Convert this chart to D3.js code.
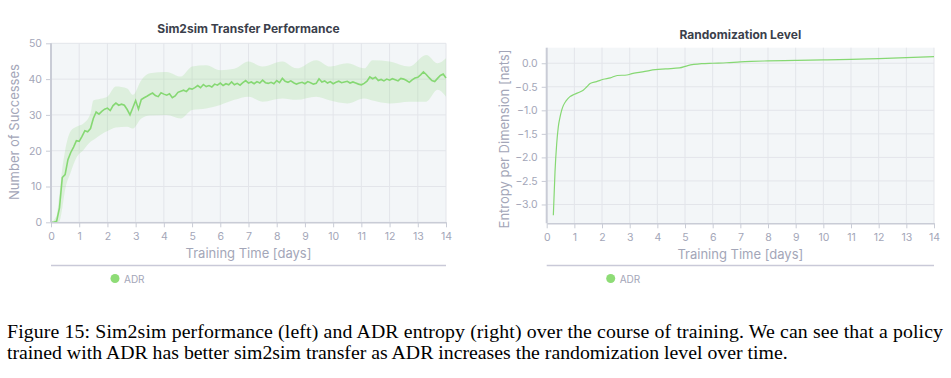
<!DOCTYPE html>
<html>
<head>
<meta charset="utf-8">
<script src="https://cdn.jsdelivr.net/npm/d3@7"></script>
<style>
  body { margin: 0; background: #fff; }
  text { font-family: Inter, "Noto Sans", sans-serif; }
</style>
</head>
<body>
<svg id="fig" width="951" height="378"></svg>
<script>
// Left chart: Sim2sim transfer performance (mean line)
const perfDays = d3.range(0, 141).map(i => i / 10);
const perfMean = [
  0, 0, 0.3, 4, 12.5, 13.3, 17.5, 19.5, 21, 22.8,
  22.6, 24, 25.6, 25.3, 26.2, 29.0, 30.8, 30.2, 31.0, 31.6,
  31.9, 31.2, 32.6, 33.3, 32.7, 33.0, 32.7, 31.5, 30.0, 32.0,
  34.0, 31.6, 34.3, 34.8, 35.2, 35.7, 36.1, 35.4, 35.1, 36.2,
  35.8, 35.5, 35.9, 34.8, 35.3, 36.3, 36.6, 36.9, 36.5, 37.4,
  37.2, 37.6, 38.2, 37.6, 38.5, 37.9, 38.2, 37.8, 38.6, 38.3,
  38.9, 38.2, 38.7, 38.4, 39.2, 38.4, 38.8, 38.3, 39.0, 39.6,
  38.9, 39.2, 38.7, 39.3, 38.9, 39.7, 39.0, 38.8, 39.1, 38.7,
  39.6, 39.0, 40.2, 39.4, 39.1, 39.5, 39.0, 38.6, 38.9, 39.1,
  38.7, 39.3, 39.0, 38.6, 38.8, 40.1, 39.2, 39.5, 38.9, 39.3,
  38.7, 39.1, 39.4, 39.0, 39.2, 39.4, 38.9, 39.2, 38.9, 38.6,
  38.4, 38.8, 39.4, 40.6, 40.1, 40.5, 39.6, 39.9, 39.5, 40.0,
  39.7, 40.1, 39.8, 39.5, 40.2, 40.0, 39.6, 39.1, 39.8, 40.3,
  40.5, 41.2, 42.0, 41.3, 40.4, 39.6, 39.3, 40.2, 41.0, 41.4,
  40.3
];
// Left chart: spread band
const bandDays = [0, 0.2, 0.3, 0.4, 0.5, 0.7, 0.9, 1.15, 1.4, 1.5, 1.75, 2.0, 2.3, 2.7, 2.9, 3.2, 3.5, 4.1, 4.6, 5.0,
  5.5, 6.0, 6.5, 7.0, 7.5, 8.2, 8.7, 9.4, 9.9, 10.5, 11.1, 11.4, 12.0, 12.7, 13.3, 13.7, 14];
const bandUpper = [0, 2, 8, 15, 20, 25.5, 26.7, 27.6, 30.4, 34, 34.5, 35.1, 37.9, 37.4, 35.6, 39.7, 41.6, 42, 40.7, 43.5,
  43.9, 42.5, 42.9, 44.9, 43.5, 44.9, 43, 45.3, 43.5, 44.4, 43, 45.3, 44.9, 43.5, 46.7, 44.4, 45.8];
const bandLower = [0, 0, 0.3, 4, 9, 14, 18, 20.2, 22.5, 23, 24.4, 25.5, 26.5, 26.7, 26.2, 29, 29.8, 30, 29, 31.4,
  31.8, 32.8, 34.2, 35.1, 33.7, 34.6, 34.2, 35.1, 34, 33.2, 34.6, 34, 33.2, 33.7, 33.7, 37, 35.1];

// Right chart: randomization level (entropy)
const entDays = [0.24, 0.3, 0.36, 0.42, 0.48, 0.54, 0.6, 0.7, 0.84, 1.0, 1.2, 1.33, 1.45, 1.57, 1.8, 2.05, 2.3, 2.55,
  2.9, 3.08, 3.4, 3.75, 4.3, 4.8, 5.1, 5.6, 6.0, 6.5, 7.0, 7.4, 8.0, 9.0, 10.0, 11.0, 12.0, 13.0, 14.0];
const entValues = [-3.23, -2.31, -1.72, -1.35, -1.15, -1.0, -0.9, -0.8, -0.71, -0.66, -0.61, -0.57, -0.5, -0.43,
  -0.39, -0.34, -0.31, -0.26, -0.25, -0.22, -0.19, -0.15, -0.12, -0.1, -0.05, -0.01, 0.0, 0.01, 0.03, 0.04,
  0.05, 0.06, 0.07, 0.08, 0.1, 0.12, 0.14];

const xTicks = d3.range(0, 15);
const perfTicks = [0, 10, 20, 30, 40, 50];
const entTicks = [0, -0.5, -1.0, -1.5, -2.0, -2.5, -3.0];
const seriesName = 'ADR';
const caption = [
  'Figure 15: Sim2sim performance (left) and ADR entropy (right) over the course of training. We can see that a policy',
  'trained with ADR has better sim2sim transfer as ADR increases the randomization level over time.'
];

const GREEN = '#86d873';
const TICK = '#a3a6b8';
const GRID = '#e3e5ea';

const svg = d3.select('#fig');

function drawChart(cfg) {
  const g = svg.append('g');
  const xs = d3.scaleLinear().domain([0, 14]).range([cfg.left, cfg.right]);
  const ys = d3.scaleLinear().domain(cfg.ydomain).range([cfg.bottom, cfg.top]);

  g.append('rect')
    .attr('x', cfg.left).attr('y', cfg.top)
    .attr('width', cfg.right - cfg.left).attr('height', cfg.bottom - cfg.top)
    .attr('fill', '#f3f6f8');

  // grid
  g.selectAll('.vg').data(xTicks.slice(1)).join('line')
    .attr('x1', d => xs(d)).attr('x2', d => xs(d))
    .attr('y1', cfg.top).attr('y2', cfg.bottom)
    .attr('stroke', GRID).attr('stroke-width', 1);
  g.selectAll('.hg').data(cfg.yticks).join('line')
    .attr('x1', cfg.left).attr('x2', cfg.right)
    .attr('y1', d => ys(d)).attr('y2', d => ys(d))
    .attr('stroke', GRID).attr('stroke-width', 1);

  cfg.marks(g, xs, ys);

  // axes
  const xaxis = g.append('g')
    .attr('transform', `translate(0, ${cfg.bottom})`)
    .call(d3.axisBottom(xs).tickValues(xTicks).tickSize(5).tickPadding(5).tickSizeOuter(0));
  const yaxis = g.append('g')
    .attr('transform', `translate(${cfg.left}, 0)`)
    .call(d3.axisLeft(ys).tickValues(cfg.yticks).tickFormat(cfg.yfmt).tickSize(5).tickPadding(4).tickSizeOuter(0));
  [xaxis, yaxis].forEach(a => {
    a.select('.domain').attr('stroke', '#c9ccd6').attr('stroke-width', 1.5);
    a.selectAll('.tick line').attr('stroke', '#c9ccd6');
    a.selectAll('.tick text').attr('fill', TICK).style('font-size', '10.5px')
      .style('font-family', 'Inter, sans-serif');
  });
  yaxis.select('.domain').attr('d', `M0,${cfg.top}V${cfg.bottom}`).attr('stroke-width', 2);

  // titles and labels
  g.append('text')
    .attr('x', (cfg.left + cfg.right) / 2).attr('y', cfg.titleY)
    .attr('text-anchor', 'middle')
    .style('font-size', '12px').style('font-weight', 700).attr('fill', '#3b3f4b')
    .text(cfg.title);
  g.append('text')
    .attr('x', (cfg.left + cfg.right) / 2).attr('y', cfg.bottom + 36)
    .attr('text-anchor', 'middle')
    .style('font-size', '13px').attr('fill', TICK)
    .text('Training Time [days]');
  g.append('text')
    .attr('transform', `translate(${cfg.ylabelX}, ${cfg.ylabelY}) rotate(-90)`)
    .attr('text-anchor', 'middle')
    .style('font-size', '13px').attr('fill', TICK)
    .text(cfg.ylabel);

  // legend
  g.append('line')
    .attr('x1', cfg.left).attr('x2', cfg.right)
    .attr('y1', cfg.legendY).attr('y2', cfg.legendY)
    .attr('stroke', '#c9c9d8').attr('stroke-width', 1.5);
  g.append('circle')
    .attr('cx', cfg.left + 64).attr('cy', cfg.legendY + 13).attr('r', 4.5)
    .attr('fill', '#8edc76');
  g.append('text')
    .attr('x', cfg.left + 73).attr('y', cfg.legendY + 17)
    .style('font-size', '10px').attr('fill', TICK)
    .text(seriesName);
}

drawChart({
  left: 51, right: 446, top: 43.3, bottom: 222.3,
  ydomain: [0, 50], yticks: perfTicks, yfmt: d3.format('d'),
  title: 'Sim2sim Transfer Performance', titleY: 33,
  ylabel: 'Number of Successes', ylabelX: 19, ylabelY: 132,
  legendY: 265.5,
  marks: (g, xs, ys) => {
    const band = bandDays.map((d, i) => ({ d: d, lo: bandLower[i], hi: bandUpper[i] }));
    g.append('path')
      .attr('d', d3.area().x(p => xs(p.d)).y0(p => ys(p.lo)).y1(p => ys(p.hi)).curve(d3.curveMonotoneX)(band))
      .attr('fill', GREEN).attr('fill-opacity', 0.2);
    const pts = perfDays.map((d, i) => [d, perfMean[i]]);
    g.append('path')
      .attr('d', d3.line().x(p => xs(p[0])).y(p => ys(p[1]))(pts))
      .attr('fill', 'none').attr('stroke', GREEN).attr('stroke-width', 1.6);
  }
});

drawChart({
  left: 546.7, right: 934, top: 47.7, bottom: 223.3,
  ydomain: [-3.4, 0.33], yticks: entTicks, yfmt: d3.format('.1f'),
  title: 'Randomization Level', titleY: 39,
  ylabel: 'Entropy per Dimension [nats]', ylabelX: 509, ylabelY: 139,
  legendY: 265.5,
  marks: (g, xs, ys) => {
    const pts = entDays.map((d, i) => [d, entValues[i]]);
    g.append('path')
      .attr('d', d3.line().x(p => xs(p[0])).y(p => ys(p[1])).curve(d3.curveMonotoneX)(pts))
      .attr('fill', 'none').attr('stroke', GREEN).attr('stroke-width', 1.2);
  }
});

// caption
svg.append('text')
  .attr('x', 7).attr('y', 338)
  .attr('textLength', 936).attr('lengthAdjust', 'spacing')
  .style('font-family', '"Liberation Serif", "Times New Roman", serif')
  .style('font-size', '19.8px').attr('fill', '#000')
  .text(caption[0]);
svg.append('text')
  .attr('x', 7).attr('y', 359)
  .style('font-family', '"Liberation Serif", "Times New Roman", serif')
  .style('font-size', '19.8px').attr('fill', '#000')
  .text(caption[1]);
</script>
</body>
</html>
